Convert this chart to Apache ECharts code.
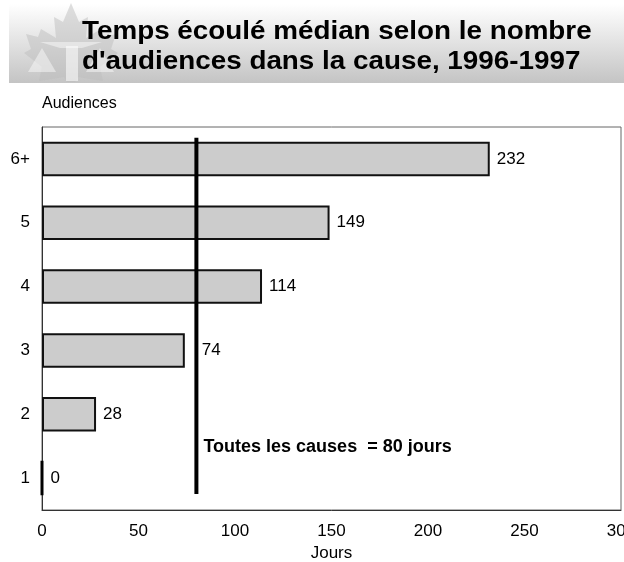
<!DOCTYPE html>
<html>
<head>
<meta charset="utf-8">
<script src="https://cdn.jsdelivr.net/npm/echarts@6/dist/echarts.min.js"></script>
<style>
  html, body { margin: 0; padding: 0; background: #fff; }
  #chart { width: 624px; height: 562px; }
</style>
</head>
<body>
<div id="chart"></div>
<script>
// données
const categories = ['1', '2', '3', '4', '5', '6+'];
const medianDays = [0, 28, 74, 114, 149, 232];
const allCases = 80;

const font = 'Liberation Sans, Arial, sans-serif';
const chart = echarts.init(document.getElementById('chart'));

// le libellé de la barre qui touche la ligne verticale est décalé à droite
const barData = medianDays.map(v => {
  if (v < allCases && v > allCases - 20) {
    return { value: v, label: { distance: 17 } };
  }
  if (v === 0) {
    return { value: v, itemStyle: { borderWidth: 3, borderColor: '#000' } };
  }
  return v;
});

const option = {
  animation: false,
  textStyle: { fontFamily: font },
  graphic: [
    {
      type: 'rect',
      shape: { x: 9, y: 4, width: 615, height: 79 },
      style: {
        fill: new echarts.graphic.LinearGradient(0, 0, 0, 1, [
          { offset: 0, color: '#ffffff' },
          { offset: 1, color: '#c4c4c4' }
        ])
      },
      silent: true
    },
    {
      // feuille d'érable pâle (logo)
      type: 'polygon',
      shape: {
        points: [[71, 3], [79, 22], [88, 17], [86, 38], [101, 29], [104, 37], [116, 34], [111, 49],
          [118, 53], [100, 67], [103, 81], [78, 77], [75, 82], [67, 82], [64, 77], [39, 81], [42, 67],
          [24, 53], [31, 49], [26, 34], [38, 37], [41, 29], [56, 38], [54, 17], [63, 22]]
      },
      style: { fill: 'rgba(190,190,190,0.5)' },
      silent: true
    },
    {
      type: 'polygon',
      shape: { points: [[42, 48], [28, 72], [56, 72]] },
      style: { fill: 'rgba(255,255,255,0.45)' },
      silent: true
    },
    {
      type: 'polygon',
      shape: { points: [[100, 48], [86, 72], [114, 72]] },
      style: { fill: 'rgba(255,255,255,0.45)' },
      silent: true
    },
    {
      type: 'rect',
      shape: { x: 66, y: 46, width: 12, height: 35 },
      style: { fill: 'rgba(255,255,255,0.55)' },
      silent: true
    },
    {
      type: 'polygon',
      shape: { points: [[40, 42], [102, 42], [82, 48], [60, 48]] },
      style: { fill: 'rgba(255,255,255,0.45)' },
      silent: true
    },
    {
      type: 'text',
      left: 82,
      top: 17,
      scaleX: 1.07,
      style: {
        text: 'Temps écoulé médian selon le nombre\nd\'audiences dans la cause, 1996-1997',
        font: 'bold 26px ' + font,
        fill: '#000',
        lineHeight: 30
      },
      silent: true
    }
  ],
  grid: {
    left: 42,
    right: 3,
    top: 127,
    bottom: 52,
    outerBoundsMode: 'none',
    show: true,
    borderColor: '#666',
    borderWidth: 1,
    backgroundColor: 'transparent'
  },
  xAxis: {
    type: 'value',
    min: 0,
    max: 300,
    interval: 50,
    name: 'Jours',
    nameLocation: 'middle',
    nameGap: 34,
    nameTextStyle: { fontSize: 17, color: '#000' },
    axisLine: { show: true, lineStyle: { color: '#333' } },
    axisTick: { show: false },
    splitLine: { show: false },
    axisLabel: { fontSize: 17, color: '#000', margin: 13 }
  },
  yAxis: [
    {
      type: 'category',
      data: categories,
      name: 'Audiences',
      nameLocation: 'end',
      nameGap: 15,
      nameTextStyle: { fontSize: 16, color: '#000', align: 'left' },
      axisLine: { show: true, lineStyle: { color: '#333' } },
      axisTick: { show: false },
      axisLabel: { fontSize: 17, color: '#000', margin: 12 }
    },
    {
      type: 'value',
      min: 0,
      max: 6,
      show: false
    }
  ],
  series: [
    {
      type: 'bar',
      data: barData,
      barWidth: '54%',
      itemStyle: { color: '#cccccc', borderColor: '#111', borderWidth: 2 },
      label: {
        show: true,
        position: 'right',
        distance: 7,
        fontSize: 17,
        color: '#000'
      }
    },
    {
      type: 'line',
      yAxisIndex: 1,
      data: [
        [allCases, 0.25],
        {
          value: [allCases, 0.99],
          label: {
            show: true,
            position: 'right',
            distance: 7,
            formatter: 'Toutes les causes  = ' + allCases + ' jours',
            fontSize: 18,
            fontWeight: 'bold',
            color: '#000'
          }
        },
        [allCases, 5.83]
      ],
      symbol: 'circle',
      symbolSize: 0,
      showAllSymbol: true,
      itemStyle: { color: '#000' },
      lineStyle: { color: '#000', width: 4 },
      silent: true
    }
  ]
};

chart.setOption(option);
</script>
</body>
</html>
